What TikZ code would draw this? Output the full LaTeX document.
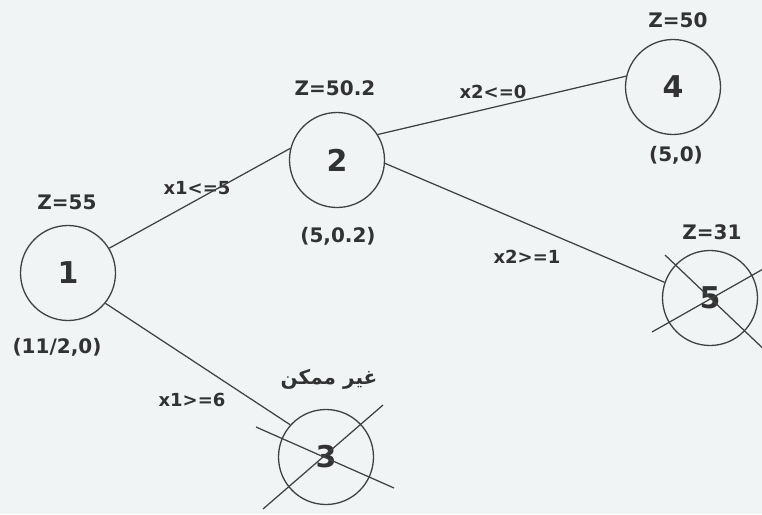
\documentclass[tikz,border=0pt]{standalone}
\usepackage{fontspec}
\setmainfont{DejaVu Sans}
\newfontfamily\lblfont{DejaVu Sans Bold}
\newfontfamily\arabicfont[Script=Arabic]{DejaVu Sans Bold}
\TeXXeTstate=1
\definecolor{bgcol}{RGB}{240,244,244}
\definecolor{inkcol}{RGB}{50,50,50}
\definecolor{linecol}{RGB}{65,65,65}
\tikzset{
  treenode/.style={circle, draw=linecol, line width=1.3pt, minimum size=95pt, inner sep=0pt,
    font=\lblfont\fontsize{30}{30}\selectfont, text=inkcol},
  zlabel/.style={font=\lblfont\fontsize{20}{20}\selectfont, text=inkcol, inner sep=0pt},
  elabel/.style={font=\lblfont\fontsize{18}{18}\selectfont, text=inkcol, inner sep=0pt},
  branch/.style={draw=linecol, line width=1.25pt},
  crossline/.style={draw=linecol, line width=1.25pt}
}
\begin{document}
\begin{tikzpicture}[x=1pt,y=-1pt]
\fill[bgcol] (0,0) rectangle (762,514);
\useasboundingbox (0,0) rectangle (762,514);
\clip (0,0) rectangle (762,514);

\node[treenode] (n1) at (68,273) {1};
\node[treenode] (n2) at (337,160) {2};
\node[treenode] (n4) at (673,87) {4};
\node[treenode] (n5) at (710,298) {5};
\node[treenode] (n3) at (326,457) {3};

\node[zlabel] (z1) at (67,202) {Z=55};
\node[zlabel] (p1) at (57,347) {(11/2,0)};
\node[zlabel] (z2) at (335,88) {Z=50.2};
\node[zlabel] (p2) at (338,236) {(5,0.2)};
\node[zlabel] (z4) at (678,20) {Z=50};
\node[zlabel] (p4) at (676,155) {(5,0)};
\node[zlabel] (z5) at (712,232) {Z=31};
\node[zlabel] (z3) at (329,379) {\arabicfont\fontsize{20}{20}\selectfont\beginR غير ممكن\endR};

\node[elabel] (e12) at (197,188) {x1<=5};
\node[elabel] (e24) at (493,92) {x2<=0};
\node[elabel] (e25) at (527,257) {x2>=1};
\node[elabel] (e13) at (192,400) {x1>=6};

\draw[branch] (n1.31) -- (n2.166);
\draw[branch] (n2.32) -- (n4.167);
\draw[branch] (n2.-4) -- (n5.161);
\draw[branch] (n1.-39) -- (n3.138);

\coordinate (c3a) at (256,427);
\coordinate (c3b) at (394,488);
\coordinate (c3c) at (263,509);
\coordinate (c3d) at (383,405);
\draw[crossline] (c3a) -- (c3b);
\draw[crossline] (c3c) -- (c3d);

\coordinate (c5a) at (665,255);
\coordinate (c5b) at (772,357);
\coordinate (c5c) at (652,332);
\coordinate (c5d) at (772,264);
\draw[crossline] (c5a) -- (c5b);
\draw[crossline] (c5c) -- (c5d);
\end{tikzpicture}
\end{document}
